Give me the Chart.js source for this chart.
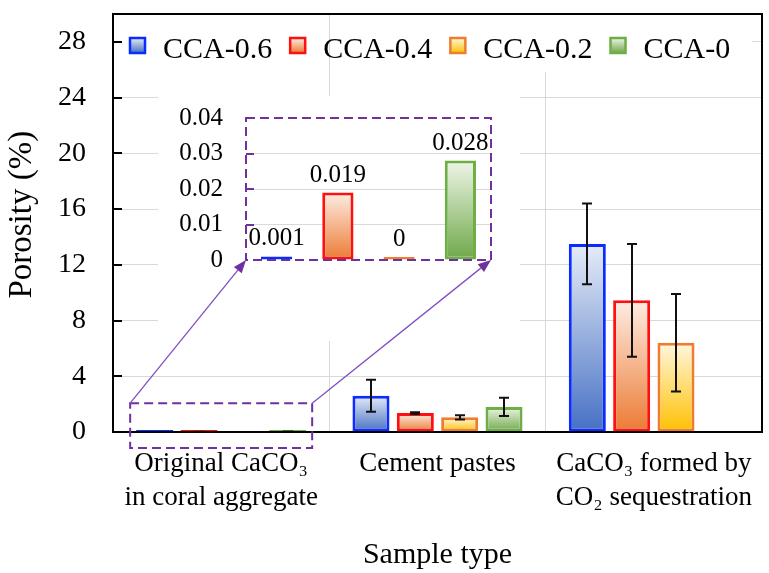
<!DOCTYPE html>
<html>
<head>
<meta charset="utf-8">
<script src="https://cdn.jsdelivr.net/npm/chart.js@4.4.1/dist/chart.umd.min.js"></script>
<style>
  body { margin: 0; background: #fff; }
  #wrap { position: relative; width: 769px; height: 573px; }
  #main { position: absolute; left: 0; top: 0; }
  #inset { position: absolute; left: 158px; top: 96px; }
</style>
</head>
<body>
<div id="wrap">
  <canvas id="main" width="769" height="573"></canvas>
  <canvas id="inset" width="362" height="245"></canvas>
</div>
<script>
// data
const categories = [['Original CaCO₃', 'in coral aggregate'], 'Cement pastes', ['CaCO₃ formed by', 'CO₂ sequestration']];
const seriesNames = ['CCA-0.6', 'CCA-0.4', 'CCA-0.2', 'CCA-0'];
const cca06 = [0.001, 2.6, 13.5];
const cca04 = [0.019, 1.36, 9.45];
const cca02 = [0, 1.05, 6.4];
const cca0 = [0.028, 1.8, null];
const err06 = [null, 1.15, 2.9];
const err04 = [0.004, 0.06, 4.05];
const err02 = [null, 0.16, 3.5];
const err0 = [0.006, 0.66, null];
const yTicks = [0, 4, 8, 12, 16, 20, 24, 28];
const insetTicks = [0, 0.01, 0.02, 0.03, 0.04];
const insetTickLabels = ['0', '0.01', '0.02', '0.03', '0.04'];

const mainSeries = [cca06, cca04, cca02, cca0];
const mainErrors = [err06, err04, err02, err0];
// inset = zoom on the first category
const insetValues = mainSeries.map(s => s[0]);

const serif = "'Liberation Serif', 'Times New Roman', serif";
const purple = '#7030a0';
const styles = [
  { border: '#0a2cff', light: '#e6ecf7', dark: '#4670c4' },
  { border: '#ff1010', light: '#fdede3', dark: '#ec7a34' },
  { border: '#ee7d30', light: '#fff7de', dark: '#ffc000' },
  { border: '#6fae45', light: '#eef5e8', dark: '#6ea848' }
];
const thinBar = [2, 2, 0, 2];

// vertical gradient per bar
function barFill(st) {
  return function (ctx) {
    const chart = ctx.chart;
    const v = ctx.raw;
    if (!chart.chartArea || ctx.type !== 'data' || v == null) return st.dark;
    const ys = chart.scales.y;
    const top = ys.getPixelForValue(v), base = ys.getPixelForValue(0);
    if (base - top < 3) return st.dark;
    const g = chart.ctx.createLinearGradient(0, top, 0, base);
    g.addColorStop(0, st.light);
    g.addColorStop(1, st.dark);
    return g;
  };
}

function setTicks(list) {
  return function (scale) {
    scale.ticks = list.map(v => ({ value: v }));
  };
}

// fixed size, and no extra room asked for the tick labels
function fixSize(w, h) {
  return function (s) {
    if (w != null) s.width = w;
    if (h != null) s.height = h;
    s.paddingTop = 0; s.paddingBottom = 0;
    s.paddingLeft = 0; s.paddingRight = 0;
  };
}

function arrow(ctx, x1, y1, x2, y2) {
  const ang = Math.atan2(y2 - y1, x2 - x1);
  const len = 13, hw = 5;
  const bx = x2 - len * Math.cos(ang), by = y2 - len * Math.sin(ang);
  ctx.beginPath();
  ctx.moveTo(x1, y1);
  ctx.lineTo(bx, by);
  ctx.stroke();
  ctx.beginPath();
  ctx.moveTo(x2, y2);
  ctx.lineTo(bx + hw * Math.sin(ang), by - hw * Math.cos(ang));
  ctx.lineTo(bx - hw * Math.sin(ang), by + hw * Math.cos(ang));
  ctx.closePath();
  ctx.fill();
}

/* ---------------- INSET ---------------- */
const insetBox = { left: 158, top: 96, width: 362, height: 245 };

const insetDecor = {
  id: 'insetDecor',
  afterDatasetsDraw(chart) {
    const ctx = chart.ctx;
    ctx.save();
    ctx.font = '25px ' + serif;
    ctx.fillStyle = '#000';
    ctx.textAlign = 'center';
    ctx.textBaseline = 'alphabetic';
    chart.data.datasets.forEach((ds, i) => {
      const bar = chart.getDatasetMeta(i).data[0];
      ctx.fillText(String(insetValues[i]), bar.x, bar.y - 11);
    });
    ctx.restore();
  },
  afterDraw(chart) {
    const ctx = chart.ctx, a = chart.chartArea, ys = chart.scales.y;
    ctx.save();
    ctx.strokeStyle = purple;
    ctx.lineWidth = 2;
    // inward ticks
    insetTicks.slice(1, -1).forEach(v => {
      const y = Math.round(ys.getPixelForValue(v));
      ctx.beginPath();
      ctx.moveTo(a.left, y);
      ctx.lineTo(a.left + 8, y);
      ctx.stroke();
    });
    ctx.setLineDash([9, 5]);
    ctx.strokeRect(a.left, a.top, a.right - a.left, a.bottom - a.top);
    ctx.restore();
  }
};

const inset = new Chart(document.getElementById('inset'), {
  type: 'bar',
  data: {
    labels: [''],
    datasets: seriesNames.map((name, i) => ({
      label: name,
      data: [insetValues[i]],
      backgroundColor: barFill(styles[i]),
      borderColor: styles[i].border,
      borderWidth: 3,
      borderSkipped: false,
      minBarLength: 3,
      categoryPercentage: 1,
      barPercentage: 0.51
    }))
  },
  options: {
    responsive: false,
    animation: false,
    events: [],
    layout: { padding: { left: 0, top: 22, right: 29, bottom: 81 } },
    plugins: { legend: { display: false }, tooltip: { enabled: false } },
    scales: {
      x: { display: false, offset: true },
      y: {
        min: 0, max: 0.04,
        afterBuildTicks: setTicks(insetTicks),
        afterFit: fixSize(88, null),
        ticks: {
          font: { family: serif, size: 25 }, color: '#000', padding: 23,
          callback: (v, i) => insetTickLabels[i]
        },
        grid: {
          color: c => (c.index === 0 || c.index === insetTicks.length - 1) ? 'rgba(0,0,0,0)' : '#d9d9d9',
          drawTicks: false
        },
        border: { display: false }
      }
    }
  },
  plugins: [insetDecor]
});

/* ---------------- MAIN ---------------- */
const whiteOut = {
  id: 'whiteOut',
  beforeDatasetsDraw(chart) {
    const ctx = chart.ctx, a = chart.chartArea, xs = chart.scales.x;
    ctx.save();
    ctx.fillStyle = '#fff';
    // behind the legend
    ctx.fillRect(a.left + 9, a.top + 1, a.right - a.left - 19, 57);
    // behind the inset
    ctx.fillRect(insetBox.left, insetBox.top, insetBox.width, insetBox.height);
    // first category divider stays visible above the inset
    const gx = Math.round(xs.getPixelForValue(0.5)) + 0.5;
    ctx.strokeStyle = '#d9d9d9';
    ctx.lineWidth = 1;
    ctx.beginPath();
    ctx.moveTo(gx, a.top);
    ctx.lineTo(gx, insetBox.top);
    ctx.stroke();
    ctx.restore();
  }
};

const errorBars = {
  id: 'errorBars',
  afterDatasetsDraw(chart) {
    const ctx = chart.ctx, ys = chart.scales.y;
    ctx.save();
    ctx.strokeStyle = '#111';
    ctx.lineWidth = 2;
    mainErrors.forEach((errs, i) => {
      chart.getDatasetMeta(i).data.forEach((bar, j) => {
        const e = errs[j], v = mainSeries[i][j];
        if (e == null || v == null) return;
        const x = Math.round(bar.x);
        const yt = ys.getPixelForValue(v + e), yb = ys.getPixelForValue(Math.max(v - e, 0));
        ctx.beginPath();
        ctx.moveTo(x, yt); ctx.lineTo(x, yb);
        ctx.moveTo(x - 5, yt); ctx.lineTo(x + 5, yt);
        ctx.moveTo(x - 5, yb); ctx.lineTo(x + 5, yb);
        ctx.stroke();
      });
    });
    ctx.restore();
  }
};

const insideLegend = {
  id: 'insideLegend',
  afterDatasetsDraw(chart) {
    const ctx = chart.ctx, a = chart.chartArea;
    const box = 15, boxTop = a.top + 24;
    let x = a.left + 17;
    ctx.save();
    ctx.font = '30px ' + serif;
    chart.data.datasets.forEach((ds, i) => {
      const st = styles[i];
      const g = ctx.createLinearGradient(0, boxTop, 0, boxTop + box);
      g.addColorStop(0, st.light);
      g.addColorStop(1, st.dark);
      ctx.fillStyle = g;
      ctx.fillRect(x, boxTop, box, box);
      ctx.strokeStyle = st.border;
      ctx.lineWidth = 2.5;
      ctx.strokeRect(x, boxTop, box, box);
      x += box + 18;
      ctx.fillStyle = '#000';
      ctx.textBaseline = 'alphabetic';
      ctx.fillText(ds.label, x, boxTop + 20);
      x += ctx.measureText(ds.label).width + 18;
    });
    ctx.restore();
  }
};

const frame = {
  id: 'frame',
  afterDraw(chart) {
    const ctx = chart.ctx, a = chart.chartArea;
    const xs = chart.scales.x, ys = chart.scales.y;
    ctx.save();
    ctx.strokeStyle = '#000';
    ctx.lineWidth = 2;
    ctx.strokeRect(a.left, a.top, a.right - a.left, a.bottom - a.top);
    yTicks.forEach(v => {
      const y = Math.round(ys.getPixelForValue(v));
      ctx.beginPath();
      ctx.moveTo(a.left, y);
      ctx.lineTo(a.left + 9, y);
      ctx.stroke();
    });

    // zoom box on first category
    const cx = xs.getPixelForValue(0);
    const zl = cx - 91, zr = cx + 91;
    const zt = ys.getPixelForValue(2.07), zb = a.bottom + 16;
    ctx.strokeStyle = purple;
    ctx.setLineDash([9, 5]);
    ctx.strokeRect(zl, zt, zr - zl, zb - zt);
    ctx.setLineDash([]);

    // arrows to the inset corners
    const ia = inset.chartArea;
    ctx.strokeStyle = '#8050c0';
    ctx.fillStyle = '#7030a0';
    ctx.lineWidth = 1.3;
    arrow(ctx, zl, zt, insetBox.left + ia.left, insetBox.top + ia.bottom);
    arrow(ctx, zr, zt, insetBox.left + ia.right, insetBox.top + ia.bottom);
    ctx.restore();
  }
};

new Chart(document.getElementById('main'), {
  type: 'bar',
  data: {
    labels: categories,
    datasets: seriesNames.map((name, i) => ({
      label: name,
      data: mainSeries[i],
      backgroundColor: barFill(styles[i]),
      borderColor: styles[i].border,
      borderWidth: 3,
      borderSkipped: false,
      minBarLength: thinBar[i],
      categoryPercentage: 0.82,
      barPercentage: 0.835
    }))
  },
  options: {
    responsive: false,
    animation: false,
    events: [],
    layout: { padding: { left: 0, top: 14, right: 7, bottom: 0 } },
    plugins: { legend: { display: false }, tooltip: { enabled: false } },
    scales: {
      x: {
        afterFit: fixSize(null, 141),
        ticks: {
          font: { family: serif, size: 27, lineHeight: 1.26 }, color: '#000',
          padding: 15, maxRotation: 0, autoSkip: false
        },
        grid: { offset: true, color: '#d9d9d9', drawTicks: false },
        border: { display: false },
        title: {
          display: true, text: 'Sample type', color: '#000',
          font: { family: serif, size: 30, lineHeight: 1.2 },
          padding: { top: 0, bottom: 0 }
        }
      },
      y: {
        min: 0, max: 30,
        afterBuildTicks: setTicks(yTicks),
        afterFit: fixSize(113, null),
        ticks: { font: { family: serif, size: 28 }, color: '#000', padding: 27 },
        grid: { color: '#d9d9d9', drawTicks: false },
        border: { display: false },
        title: {
          display: true, text: '\u00a0\u00a0Porosity (%)', color: '#000',
          font: { family: serif, size: 33, lineHeight: 1.2 },
          padding: { top: 3, bottom: 0 }
        }
      }
    }
  },
  plugins: [whiteOut, errorBars, insideLegend, frame]
});
</script>
</body>
</html>
